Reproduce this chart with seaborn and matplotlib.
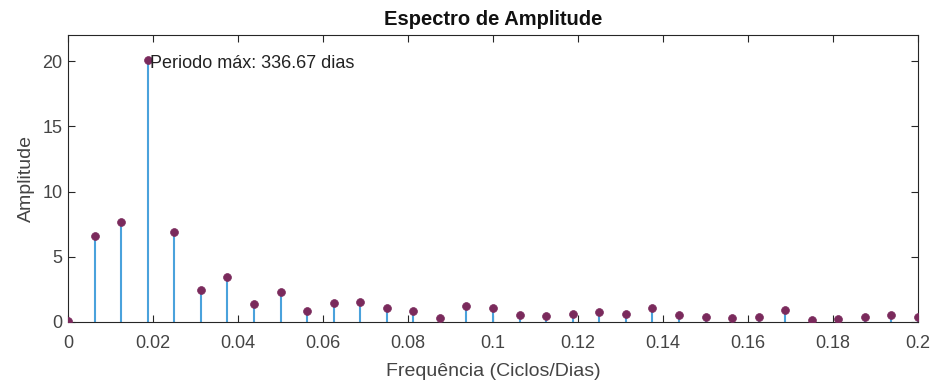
import numpy as np
import pandas as pd
import matplotlib
matplotlib.use("Agg")
import matplotlib.pyplot as plt
import seaborn as sns

# Frequency bins (cycles/day) and the amplitude of each bin
freq = [k / 160 for k in range(33)]
amplitude = [0.05, 6.6, 7.7, 20.1, 6.9, 2.45, 3.45, 1.35, 2.3, 0.85,
             1.45, 1.5, 1.1, 0.85, 0.3, 1.2, 1.05, 0.5, 0.45, 0.6,
             0.75, 0.65, 1.05, 0.55, 0.4, 0.3, 0.35, 0.9, 0.15, 0.2,
             0.35, 0.5, 0.35]
peak_label = "Periodo máx: 336.67 dias"
x_ticks = [0, 0.02, 0.04, 0.06, 0.08, 0.1, 0.12, 0.14, 0.16, 0.18, 0.2]
x_tick_labels = ["0", "0.02", "0.04", "0.06", "0.08", "0.1", "0.12", "0.14", "0.16", "0.18", "0.2"]
y_ticks = [0, 5, 10, 15, 20]

df = pd.DataFrame({"freq": freq, "amp": amplitude})

sns.set_theme(style="white")
plt.rcParams["font.family"] = ["Liberation Sans", "DejaVu Sans"]

fig = plt.figure(figsize=(9.38, 3.83), dpi=100)
ax = fig.add_axes([68 / 938, 1 - 322 / 383, 850 / 938, 287 / 383])

stem_color = "#4aa2dc"
marker_color = "#7a2a5c"

ax.vlines(df["freq"], 0, df["amp"], color=stem_color, linewidth=1.5, zorder=2)
sns.scatterplot(data=df, x="freq", y="amp", ax=ax, color=marker_color,
                s=32, edgecolor=marker_color, linewidth=0.5, zorder=3, legend=False)

ax.set_xlim(0, 0.2)
ax.set_ylim(0, 22)
ax.set_xticks(x_ticks)
ax.set_xticklabels(x_tick_labels)
ax.set_yticks(y_ticks)

ax.tick_params(axis="both", direction="in", length=5, width=0.8, colors="#262626",
               labelsize=13, top=True, right=True, bottom=True, left=True)
ax.tick_params(axis="x", pad=9)
ax.tick_params(axis="y", pad=4)
for lab in ax.get_xticklabels() + ax.get_yticklabels():
    lab.set_color("#444444")
for sp in ax.spines.values():
    sp.set_color("#262626")
    sp.set_linewidth(0.8)
    sp.set_visible(True)

ax.set_xlabel("Frequência (Ciclos/Dias)", fontsize=14, color="#444444", labelpad=8)
ax.set_ylabel("Amplitude", fontsize=14, color="#444444", labelpad=5)
ax.set_title("Espectro de Amplitude", fontsize=14.5, fontweight="bold", color="#111111", pad=7)

peak_idx = int(np.argmax(amplitude))
ax.annotate(peak_label, xy=(freq[peak_idx], amplitude[peak_idx]),
            xytext=(2, -3), textcoords="offset points", ha="left", va="center",
            fontsize=13, color="#222222")

fig.savefig("out.png", dpi=100)
